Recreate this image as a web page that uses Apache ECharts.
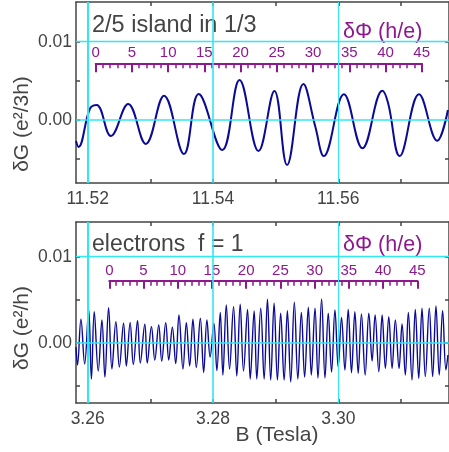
<!DOCTYPE html>
<html>
<head>
<meta charset="utf-8">
<script src="https://cdn.jsdelivr.net/npm/echarts@6/dist/echarts.min.js"></script>
<style>
  html, body { margin: 0; padding: 0; background: #fff; }
  #chart { width: 449px; height: 452px; }
</style>
</head>
<body>
<div id="chart"></div>
<script>
// upper panel: 2/5 island in 1/3 (B in Tesla, dG in e^2/3h)
const topB = [11.51814, 11.51854, 11.52037, 11.52143, 11.52371, 11.52646, 11.52928, 11.53219, 11.53537, 11.53771,
  11.54148, 11.54423, 11.54726, 11.54980, 11.55182, 11.55442, 11.55633, 11.55768, 11.56089, 11.56385,
  11.56703, 11.56794, 11.56980, 11.57287, 11.57578, 11.57749];
const topG = [-0.00268, -0.00345, 0.00147, 0.00192, -0.00204, 0.00204, -0.00306, 0.00310, -0.00434, 0.00332,
  -0.00383, 0.00511, -0.00396, 0.00370, -0.00575, 0.00460, -0.00086, -0.00460, 0.00328, -0.00361,
  0.00374, 0.00217, -0.00460, 0.00328, -0.00264, 0.00128];

// lower panel: electrons f = 1 (B in Tesla, dG in e^2/h)
const botB = [3.25814, 3.25838, 3.25893, 3.25952, 3.26016, 3.26060, 3.26105, 3.26169, 3.26228, 3.26275,
  3.26334, 3.26387, 3.26450, 3.26506, 3.26573, 3.26617, 3.26678, 3.26729, 3.26796, 3.26840,
  3.26912, 3.26951, 3.27018, 3.27071, 3.27134, 3.27182, 3.27246, 3.27294, 3.27352, 3.27405,
  3.27457, 3.27521, 3.27575, 3.27628, 3.27680, 3.27734, 3.27798, 3.27851, 3.27903, 3.27954,
  3.28014, 3.28062, 3.28116, 3.28158, 3.28212, 3.28264, 3.28328, 3.28380, 3.28434, 3.28487,
  3.28551, 3.28594, 3.28657, 3.28699, 3.28762, 3.28816, 3.28869, 3.28921, 3.28975, 3.29028,
  3.29080, 3.29135, 3.29187, 3.29240, 3.29298, 3.29354, 3.29410, 3.29462, 3.29521, 3.29569,
  3.29628, 3.29675, 3.29733, 3.29787, 3.29839, 3.29892, 3.29946, 3.29998, 3.30051, 3.30105,
  3.30158, 3.30210, 3.30264, 3.30317, 3.30369, 3.30428, 3.30487, 3.30539, 3.30587, 3.30646,
  3.30699, 3.30751, 3.30805, 3.30858, 3.30910, 3.30969, 3.31017, 3.31069, 3.31117, 3.31176,
  3.31228, 3.31283, 3.31335, 3.31388, 3.31451, 3.31505, 3.31558, 3.31610, 3.31664, 3.31717,
  3.31749];
const botG = [-0.00050, -0.00259, 0.00272, -0.00248, 0.00388, -0.00422, 0.00360, -0.00329, 0.00264, -0.00399,
  0.00407, -0.00306, 0.00244, -0.00283, 0.00226, -0.00271, 0.00233, -0.00253, 0.00256, -0.00236,
  0.00214, -0.00236, 0.00186, -0.00201, 0.00206, -0.00213, 0.00233, -0.00201, 0.00179, -0.00242,
  0.00322, -0.00306, 0.00233, -0.00271, 0.00272, -0.00288, 0.00284, -0.00347, 0.00264, -0.00166,
  0.00226, -0.00323, 0.00353, -0.00376, 0.00438, -0.00306, 0.00419, -0.00387, 0.00447, -0.00329,
  0.00386, -0.00422, 0.00369, -0.00422, 0.00400, -0.00422, 0.00505, -0.00434, 0.00458, -0.00434,
  0.00342, -0.00434, 0.00372, -0.00457, 0.00470, -0.00422, 0.00353, -0.00399, 0.00412, -0.00376,
  0.00400, -0.00410, 0.00508, -0.00410, 0.00342, -0.00341, 0.00380, -0.00283, 0.00295, -0.00317,
  0.00388, -0.00349, 0.00360, -0.00356, 0.00334, -0.00376, 0.00342, -0.00213, 0.00322, -0.00337,
  0.00322, -0.00298, 0.00302, -0.00298, 0.00264, -0.00298, 0.00217, -0.00376, 0.00353, -0.00434,
  0.00388, -0.00414, 0.00400, -0.00395, 0.00400, -0.00395, 0.00427, -0.00376, 0.00372, -0.00317,
  -0.00143];

// tick values
const topTicks = [11.52, 11.53, 11.54, 11.55, 11.56, 11.57];
const topLabels = [11.52, 11.54, 11.56];
const botTicks = [3.26, 3.27, 3.28, 3.29, 3.30, 3.31];
const botLabels = [3.26, 3.28, 3.30];
const gTicks = [-0.005, 0, 0.005, 0.01];
const gLabels = [0, 0.01];

const gray = '#444';
const purple = '#8e188e';
const cyan = '#30e8f0';
const navy = '#0a0a96';
const font = 'Liberation Sans, Arial, sans-serif';

function zip(a, b) {
  return a.map((v, i) => [v, b[i]]);
}

function frameX(grid, min, max, ticks, labels, pos) {
  return {
    type: 'value', gridIndex: grid, position: pos, min: min, max: max,
    axisLine: { show: true, onZero: false, lineStyle: { color: gray, width: 1.5 } },
    axisTick: { show: true, inside: true, length: 4, customValues: ticks, lineStyle: { color: gray, width: 1.5 } },
    axisLabel: labels ? {
      show: true, customValues: labels, margin: 7, color: gray, fontSize: 17.5, fontFamily: font,
      formatter: v => v.toFixed(2)
    } : { show: false },
    splitLine: { show: false }
  };
}

function frameY(grid, min, max, pos, labels) {
  return {
    type: 'value', gridIndex: grid, position: pos, min: min, max: max,
    axisLine: { show: true, onZero: false, lineStyle: { color: gray, width: 1.5 } },
    axisTick: { show: true, inside: true, length: 4, customValues: gTicks, lineStyle: { color: gray, width: 1.5 } },
    axisLabel: labels ? {
      show: true, customValues: gLabels, margin: 4, color: gray, fontSize: 17.5, fontFamily: font,
      formatter: v => v.toFixed(2)
    } : { show: false },
    splitLine: { show: false }
  };
}

// flux scale: line on the bottom edge of a thin grid, ticks hanging down, numbers lifted above
function phiAxis(grid, majorLen, margin) {
  return {
    type: 'value', gridIndex: grid, position: 'bottom', min: 0, max: 45, interval: 5,
    axisLine: { show: true, onZero: false, lineStyle: { color: purple, width: 2 } },
    axisTick: { show: true, inside: false, length: majorLen, lineStyle: { color: purple, width: 2 } },
    minorTick: { show: true, splitNumber: 5, length: 5, lineStyle: { color: purple, width: 1.5 } },
    axisLabel: { show: true, margin: margin, color: purple, fontSize: 15, fontFamily: font },
    splitLine: { show: false }
  };
}

function cyanLines(xi, yi, xs) {
  return {
    type: 'line', xAxisIndex: xi, yAxisIndex: yi, data: [], z: 1, silent: true,
    markLine: {
      symbol: 'none', silent: true, animation: false, label: { show: false },
      lineStyle: { color: cyan, type: 'solid', width: 1.5 },
      data: [
        { xAxis: xs[0], lineStyle: { color: cyan, type: 'solid', width: 2 } },
        { xAxis: xs[1], lineStyle: { color: cyan, type: 'solid', width: 1.6 } },
        { xAxis: xs[2], lineStyle: { color: cyan, type: 'solid', width: 1 } },
        { yAxis: 0, lineStyle: { color: cyan, type: 'solid', width: 1.5 } },
        { yAxis: 0.01, lineStyle: { color: cyan, type: 'solid', width: 1.3 } }
      ]
    }
  };
}

const chart = echarts.init(document.getElementById('chart'), null, { renderer: 'canvas' });

const option = {
  animation: false,
  backgroundColor: '#fff',
  grid: [
    { left: 76, top: 2, width: 374, height: 181 },
    { left: 76, top: 222, width: 374, height: 181 },
    { left: 95.7, top: 62.3, width: 326, height: 1 },
    { left: 109.3, top: 279.7, width: 308, height: 1 }
  ],
  xAxis: [
    frameX(0, 11.51814, 11.57766, topTicks, topLabels, 'bottom'),
    frameX(0, 11.51814, 11.57766, topTicks, null, 'top'),
    frameX(1, 3.25814, 3.31766, botTicks, botLabels, 'bottom'),
    frameX(1, 3.25814, 3.31766, botTicks, null, 'top'),
    phiAxis(2, 9, -18),
    phiAxis(3, 8, -17)
  ],
  yAxis: [
    frameY(0, -0.008046, 0.01507, 'left', true),
    frameY(0, -0.008046, 0.01507, 'right', false),
    frameY(1, -0.007012, 0.014035, 'left', true),
    frameY(1, -0.007012, 0.014035, 'right', false),
    { type: 'value', gridIndex: 2, show: false },
    { type: 'value', gridIndex: 3, show: false }
  ],
  series: [
    cyanLines(0, 0, topLabels),
    cyanLines(2, 2, botLabels),
    {
      name: 'island', type: 'line', xAxisIndex: 0, yAxisIndex: 0, z: 3,
      data: zip(topB, topG), smooth: 0.4, symbol: 'none',
      lineStyle: { color: navy, width: 2 }
    },
    {
      name: 'electrons', type: 'line', xAxisIndex: 2, yAxisIndex: 2, z: 3,
      data: zip(botB, botG), smooth: 0.4, symbol: 'none',
      lineStyle: { color: navy, width: 1.4 }
    }
  ],
  graphic: [
    { type: 'text', x: 92, y: 26, style: { text: '2/5 island in 1/3', fill: gray, font: '23.5px ' + font, verticalAlign: 'middle' } },
    { type: 'text', x: 343, y: 32, style: { text: 'δΦ (h/e)', fill: purple, font: '21.5px ' + font, verticalAlign: 'middle' } },
    { type: 'text', x: 92, y: 245, style: { text: 'electrons  f = 1', fill: gray, font: '23px ' + font, verticalAlign: 'middle' } },
    { type: 'text', x: 343, y: 245, style: { text: 'δΦ (h/e)', fill: purple, font: '21.5px ' + font, verticalAlign: 'middle' } },
    { type: 'text', x: 22, y: 124, rotation: Math.PI / 2, style: { text: 'δG (e²/3h)', fill: gray, font: '21px ' + font, align: 'center', verticalAlign: 'middle' } },
    { type: 'text', x: 22, y: 328, rotation: Math.PI / 2, style: { text: 'δG (e²/h)', fill: gray, font: '21px ' + font, align: 'center', verticalAlign: 'middle' } },
    { type: 'text', x: 277, y: 435, style: { text: 'B (Tesla)', fill: gray, font: '21px ' + font, align: 'center', verticalAlign: 'middle' } }
  ]
};

chart.setOption(option);
</script>
</body>
</html>
